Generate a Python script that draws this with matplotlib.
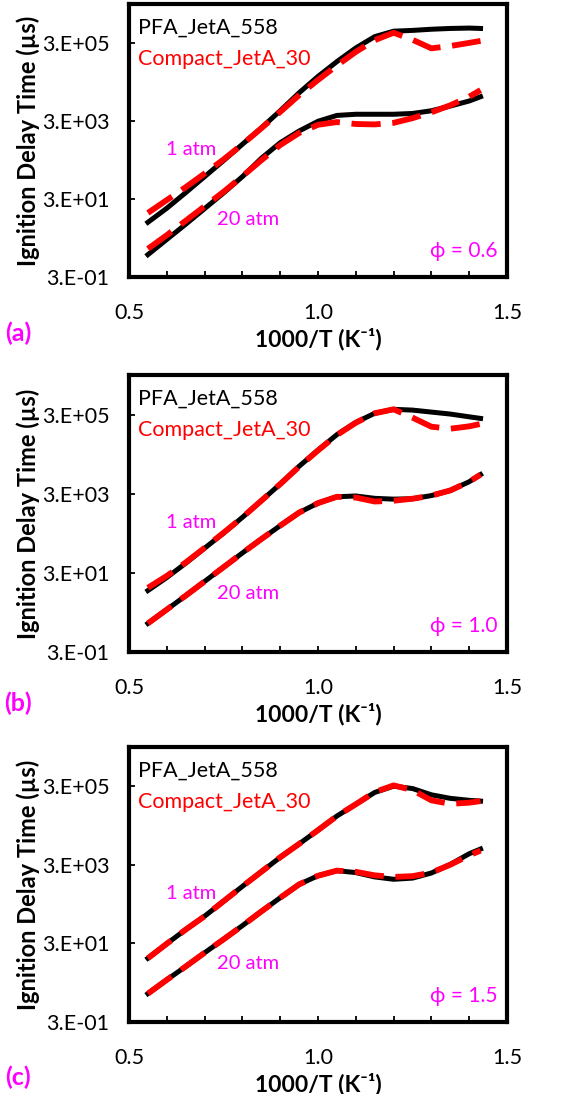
import numpy as np
import matplotlib.pyplot as plt

plt.rcParams["font.family"] = ["Lato", "DejaVu Sans"]

# 1000/T grid (K^-1) and ignition delay times, log10 of microseconds
inv_t = [0.55, 0.60, 0.65, 0.70, 0.75, 0.80, 0.85, 0.90, 0.95, 1.00,
         1.05, 1.10, 1.15, 1.20, 1.25, 1.30, 1.35, 1.40, 1.43]

# (a) phi = 0.6
a_pfa_1 = [0.88, 1.24, 1.64, 2.05, 2.46, 2.88, 3.30, 3.74, 4.20, 4.62,
           5.00, 5.35, 5.64, 5.78, 5.80, 5.83, 5.85, 5.86, 5.85]
a_cmp_1 = [1.12, 1.45, 1.78, 2.13, 2.49, 2.88, 3.29, 3.71, 4.14, 4.53,
           4.90, 5.25, 5.55, 5.74, 5.56, 5.34, 5.40, 5.48, 5.53]
a_pfa_20 = [0.05, 0.44, 0.83, 1.23, 1.63, 2.05, 2.52, 2.92, 3.22, 3.47,
            3.62, 3.65, 3.65, 3.65, 3.67, 3.74, 3.86, 3.99, 4.10]
a_cmp_20 = [0.20, 0.55, 0.92, 1.29, 1.66, 2.06, 2.47, 2.86, 3.17, 3.38,
            3.45, 3.40, 3.39, 3.43, 3.55, 3.70, 3.88, 4.10, 4.27]

# (b) phi = 1.0
b_pfa_1 = [1.03, 1.36, 1.72, 2.10, 2.48, 2.88, 3.30, 3.72, 4.17, 4.58,
           4.97, 5.28, 5.51, 5.61, 5.59, 5.54, 5.49, 5.42, 5.38]
b_cmp_1 = [1.10, 1.40, 1.74, 2.11, 2.49, 2.88, 3.30, 3.72, 4.16, 4.57,
           4.96, 5.27, 5.51, 5.61, 5.40, 5.17, 5.12, 5.18, 5.24]
b_pfa_20 = [0.20, 0.55, 0.90, 1.26, 1.62, 1.98, 2.33, 2.67, 3.00, 3.24,
            3.40, 3.42, 3.36, 3.34, 3.35, 3.43, 3.56, 3.78, 3.96]
b_cmp_20 = [0.20, 0.55, 0.90, 1.26, 1.62, 1.98, 2.33, 2.67, 3.00, 3.24,
            3.40, 3.38, 3.28, 3.30, 3.35, 3.43, 3.56, 3.78, 3.96]

# (c) phi = 1.5
c_pfa_1 = [1.10, 1.47, 1.83, 2.17, 2.55, 2.93, 3.30, 3.67, 4.01, 4.36,
           4.72, 5.02, 5.32, 5.48, 5.42, 5.26, 5.17, 5.12, 5.10]
c_cmp_1 = [1.10, 1.47, 1.83, 2.17, 2.55, 2.93, 3.30, 3.67, 4.01, 4.36,
           4.72, 5.02, 5.33, 5.50, 5.38, 5.12, 5.03, 5.06, 5.10]
c_pfa_20 = [0.20, 0.55, 0.89, 1.24, 1.58, 1.93, 2.29, 2.64, 2.98, 3.20,
            3.33, 3.28, 3.17, 3.11, 3.14, 3.27, 3.49, 3.76, 3.88]
c_cmp_20 = [0.20, 0.55, 0.89, 1.24, 1.58, 1.93, 2.29, 2.64, 2.98, 3.20,
            3.33, 3.30, 3.21, 3.17, 3.19, 3.28, 3.48, 3.72, 3.84]

panels = [
    ("(a)", "ϕ = 0.6", a_pfa_1, a_cmp_1, a_pfa_20, a_cmp_20),
    ("(b)", "ϕ = 1.0", b_pfa_1, b_cmp_1, b_pfa_20, b_cmp_20),
    ("(c)", "ϕ = 1.5", c_pfa_1, c_cmp_1, c_pfa_20, c_cmp_20),
]
ytick_vals = [0.3, 30, 3000, 300000]
ytick_lbls = ["3.E-01", "3.E+01", "3.E+03", "3.E+05"]
xtick_vals = [0.5, 1.0, 1.5]
xtick_lbls = ["0.5", "1.0", "1.5"]

# axes boxes in pixels (top, bottom) and panel label y
boxes = [(4, 277, 333), (375, 652, 703), (747, 1022, 1077)]
W, H = 570, 1094
left, right = 129, 507

fig = plt.figure(figsize=(W / 100, H / 100), dpi=100)
magenta = "#ff00ff"
red = "#ff0000"

for (tag, phi, p1, c1, p20, c20), (top, bot, ly) in zip(panels, boxes):
    ax = fig.add_axes([left / W, 1 - bot / H, (right - left) / W, (bot - top) / H])
    x = np.array(inv_t)
    ax.plot(x, 10 ** np.array(p1), color="black", lw=3.6)
    ax.plot(x, 10 ** np.array(p20), color="black", lw=3.6)
    ax.plot(x, 10 ** np.array(c1), color=red, lw=4.2, ls=(0, (5, 2)))
    ax.plot(x, 10 ** np.array(c20), color=red, lw=4.2, ls=(0, (5, 2)))

    ax.set_yscale("log")
    ax.set_ylim(0.3, 3e6)
    ax.set_xlim(0.5, 1.5)
    ax.set_yticks(ytick_vals)
    ax.set_yticklabels(ytick_lbls)
    ax.yaxis.set_minor_locator(plt.NullLocator())
    ax.set_xticks(xtick_vals)
    ax.set_xticklabels(xtick_lbls)
    ax.set_xticks(np.arange(0.6, 1.45, 0.1), minor=True)
    ax.tick_params(axis="both", which="both", direction="in", length=4, width=1.3,
                   labelsize=15.5, top=False, right=False)
    ax.tick_params(axis="x", which="major", pad=19)
    ax.tick_params(axis="y", which="major", pad=14)
    for s in ax.spines.values():
        s.set_linewidth(3.0)

    ax.set_ylabel("Ignition Delay Time (µs)", fontsize=17, fontweight="bold")
    ax.yaxis.set_label_coords((40 - left) / (right - left), 0.5)
    ax.set_xlabel("1000/T (K⁻¹)", fontsize=16.5, fontweight="bold", labelpad=3)

    ax.text(0.024, 0.915, "PFA_JetA_558", transform=ax.transAxes, fontsize=15.5,
            color="black", va="center", ha="left")
    ax.text(0.024, 0.8, "Compact_JetA_30", transform=ax.transAxes, fontsize=15.5,
            color=red, va="center", ha="left")
    ax.text(0.164, 0.467, "1 atm", transform=ax.transAxes, fontsize=14.5,
            color=magenta, va="center", ha="center")
    ax.text(0.315, 0.212, "20 atm", transform=ax.transAxes, fontsize=14.5,
            color=magenta, va="center", ha="center")
    ax.text(0.976, 0.094, phi, transform=ax.transAxes, fontsize=15,
            color=magenta, va="center", ha="right")
    fig.text(18 / W, 1 - ly / H, tag, fontsize=18, fontweight="bold",
             color=magenta, ha="center", va="center")

fig.savefig("out.png", dpi=100)
